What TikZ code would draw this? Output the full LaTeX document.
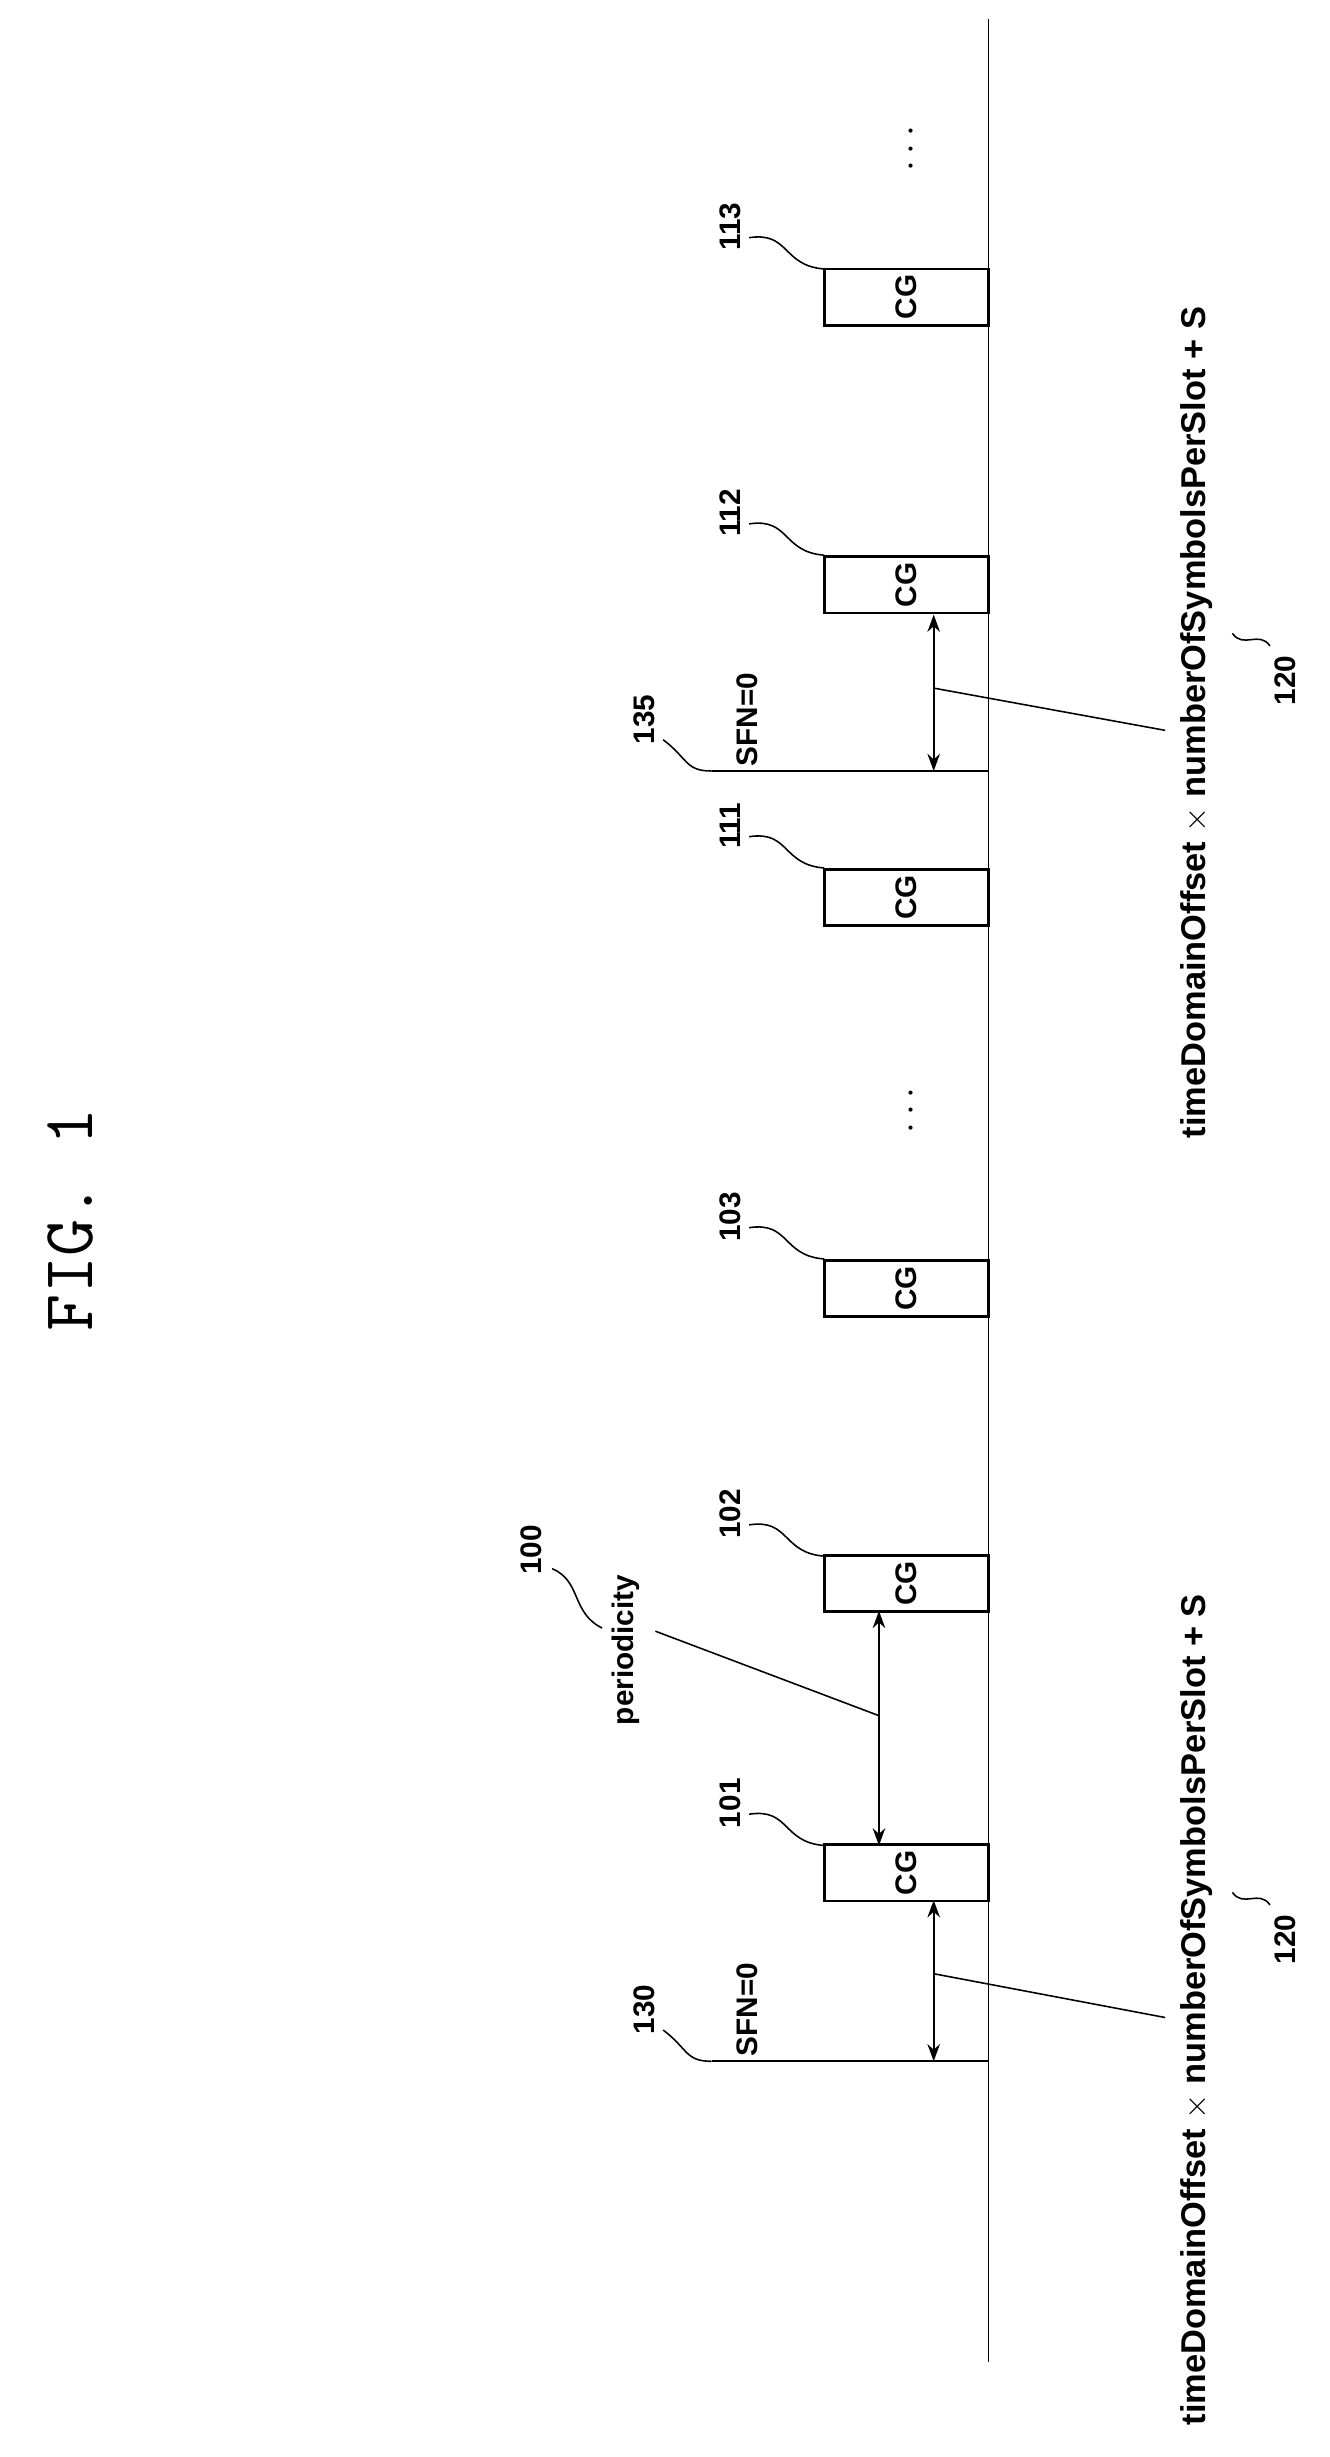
\documentclass[tikz,border=0pt]{standalone}
\usepackage{fontspec}
\setsansfont{Liberation Sans}
\usetikzlibrary{arrows.meta}
\tikzset{
  lbl/.style={rotate=90, font=\sffamily\bfseries\fontsize{19}{22}\selectfont, inner sep=0pt},
  cg/.style={draw, line width=1.8pt, rotate=90, minimum width=36pt, minimum height=105pt, inner sep=0pt, font=\sffamily\bfseries\fontsize{19}{22}\selectfont},
  dim/.style={{Stealth[length=11pt,width=8pt]}-{Stealth[length=11pt,width=8pt]}, line width=1.4pt},
  lead/.style={line width=1pt}
}
\begin{document}
\begin{tikzpicture}[x=1pt,y=1pt]
\useasboundingbox (0,0) rectangle (850,1571);
% time axis
\draw[line width=1.1pt] (632,61) -- (632,1559);
\node[rotate=90, font=\ttfamily\fontsize{46}{50}\selectfont] (title) at (45,791) {FIG. 1};
% configured grant occasions
\node[cg] (cg101) at (579.5,373.5) {CG};
\node[cg] (cg102) at (579.5,558.5) {CG};
\node[cg] (cg103) at (579.5,747) {CG};
\node[cg] (cg111) at (579.5,997) {CG};
\node[cg] (cg112) at (579.5,1197) {CG};
\node[cg] (cg113) at (579.5,1381) {CG};
\foreach \n/\y in {101/391,102/576,103/766,111/1016,112/1216,113/1399}{
  \node[lbl] (l\n) at (467,\y+27) {\n};
  \draw[lead] (479,\y+20) .. controls (505,\y+24) and (500,\y+2) .. (527,\y);
}
\node[lbl, font=\bfseries\fontsize{24}{26}\selectfont] at (583,861) {$\cdots$};
\node[lbl, font=\bfseries\fontsize{24}{26}\selectfont] at (583,1476) {$\cdots$};
% SFN=0 boundaries
\foreach \s/\y in {130/253,135/1078}{
  \coordinate (sfn\s) at (455,\y);
  \draw[line width=1.1pt] (sfn\s) -- (632,\y);
  \node[lbl] (t\s) at (478,\y+33) {SFN=0};
  \node[lbl] (l\s) at (412,\y+33) {\s};
  \draw[lead] (424,\y+20) .. controls (440,\y+8) and (438,\y) .. (sfn\s);
}
% offsets
\coordinate (o1) at (597,253);
\coordinate (o2) at (597,1078);
\draw[dim] (o1) -- (597,356);
\draw[dim] (o2) -- (597,1178);
\draw[dim] (562,391) -- (562,541);
\node[lbl] (per) at (400,516) {periodicity};
\node[lbl] (l100) at (340,580) {100};
\draw[lead] (353,568) .. controls (372,560) and (365,540) .. (385,530);
\draw[lead] (per.south) ++(10,12) -- (562,474);
\node[lbl, font=\sffamily\bfseries\fontsize{22}{25}\selectfont] (off1) at (765,286) {timeDomainOffset $\times$ numberOfSymbolsPerSlot + S};
\node[lbl, font=\sffamily\bfseries\fontsize{22}{25}\selectfont] (off2) at (765,1109) {timeDomainOffset $\times$ numberOfSymbolsPerSlot + S};
\draw[lead] (597,309) -- (745,281);
\draw[lead] (597,1131) -- (745,1104);
\foreach \y in {331,1136}{
  \node[lbl] at (822,\y) {120};
  \draw[lead] (812,\y+22) .. controls (805,\y+32) and (795,\y+20) .. (788,\y+30);
}
\end{tikzpicture}
\end{document}
